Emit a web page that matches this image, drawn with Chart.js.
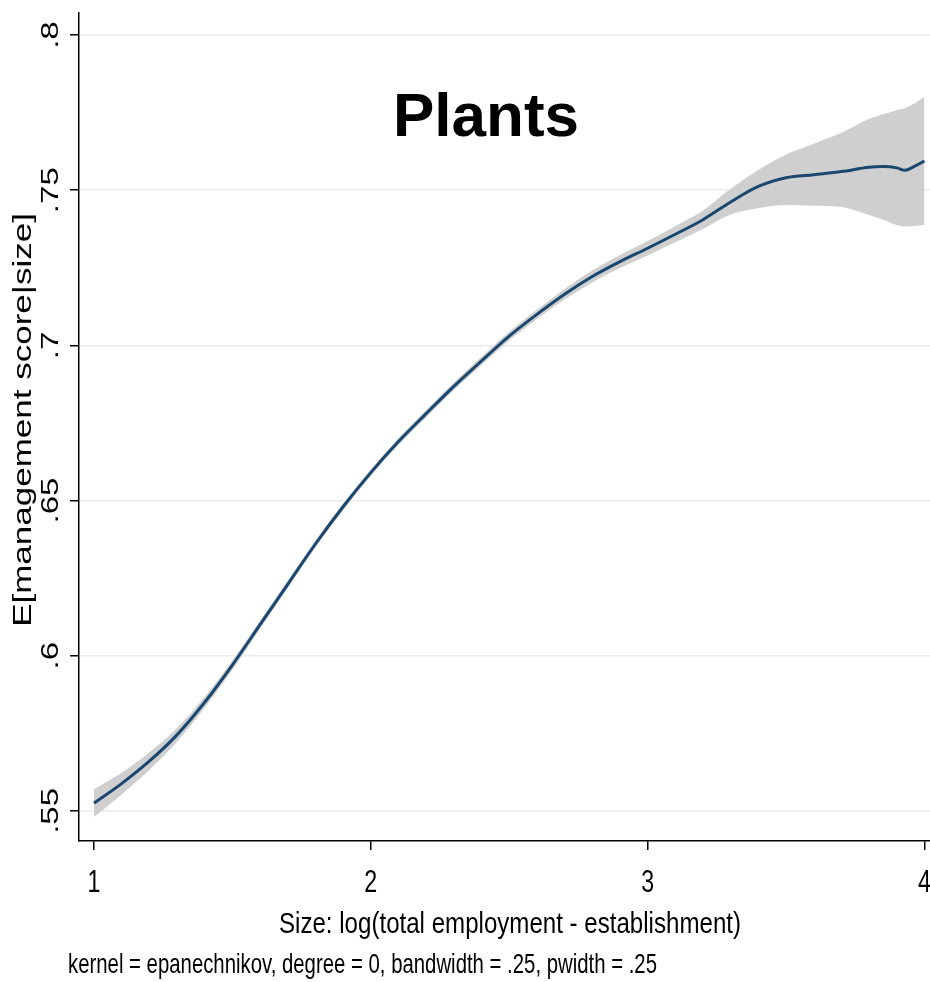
<!DOCTYPE html>
<html>
<head>
<meta charset="utf-8">
<script src="https://cdn.jsdelivr.net/npm/chart.js@4.4.1/dist/chart.umd.min.js"></script>
<style>
  html, body { margin: 0; padding: 0; background: #fff; }
  #wrap { width: 930px; height: 982px; }
</style>
</head>
<body>
<div id="wrap"><canvas id="c" width="930" height="982"></canvas></div>
<script>
// log size (x) and kernel fit with its confidence band
var xs  = [1.0, 1.1, 1.2, 1.3, 1.4, 1.5, 1.6, 1.7, 1.8, 1.9, 2.0, 2.1, 2.2, 2.3, 2.4, 2.5, 2.6, 2.7, 2.8, 2.9, 3.0, 3.1, 3.2, 3.3, 3.4, 3.5, 3.6, 3.7, 3.8, 3.85, 3.9, 3.93, 3.96, 4.0];
var fit = [.5525, .5588, .5660, .5745, .5850, .5970, .6100, .6230, .6360, .6480, .6590, .6690, .6780, .6868, .6950, .7030, .7100, .7165, .7222, .7270, .7313, .7358, .7405, .7462, .7512, .7540, .7550, .7560, .7574, .7576, .7572, .7564, .7575, .7594];
var lo  = [.5480, .5553, .5632, .5723, .5832, .5955, .6087, .6218, .6349, .6469, .6579, .6679, .6768, .6856, .6937, .7016, .7085, .7148, .7203, .7249, .7290, .7332, .7375, .7422, .7442, .7452, .7450, .7446, .7420, .7405, .7388, .7383, .7385, .7388];
var hi  = [.5570, .5623, .5688, .5767, .5868, .5985, .6113, .6242, .6371, .6491, .6601, .6701, .6792, .6880, .6963, .7044, .7115, .7182, .7241, .7291, .7336, .7384, .7435, .7505, .7565, .7615, .7650, .7685, .7730, .7745, .7758, .7765, .7778, .7800];

var xTicks = [1, 2, 3, 4];
var xTickLabels = ['1', '2', '3', '4'];
var yTicks = [.55, .6, .65, .7, .75, .8];
var yTickLabels = ['.55', '.6', '.65', '.7', '.75', '.8'];

var face = "'Liberation Sans', Arial, sans-serif";

function pts(ys) {
  return xs.map(function(x, i) { return { x: x, y: ys[i] }; });
}

// the source picture is squeezed sideways, so text gets a horizontal scale
function squeezed(ctx, txt, x, y, font, sx, turn, align) {
  ctx.save();
  ctx.translate(x, y);
  ctx.scale(sx, 1);
  if (turn) ctx.rotate(-Math.PI / 2);
  ctx.font = font;
  ctx.textAlign = align || 'center';
  ctx.fillText(txt, 0, 0);
  ctx.restore();
}

function fitWidth(ctx, txt, font, w) {
  ctx.save();
  ctx.font = font;
  var m = ctx.measureText(txt).width;
  ctx.restore();
  return w / m;
}

var textPlugin = {
  id: 'texts',
  afterDraw: function(chart) {
    var ctx = chart.ctx, ys = chart.scales.y, xsc = chart.scales.x;
    ctx.save();
    ctx.fillStyle = '#000';

    // y tick labels (turned)
    ctx.textBaseline = 'middle';
    for (var i = 0; i < yTicks.length; i++) {
      squeezed(ctx, yTickLabels[i], 51, ys.getPixelForValue(yTicks[i]), '33px ' + face, 0.75, true);
    }
    // y title
    squeezed(ctx, 'E[management score|size]', 24, 420, '35px ' + face, 0.73, true);

    // x tick labels
    ctx.textBaseline = 'alphabetic';
    for (var j = 0; j < xTicks.length; j++) {
      squeezed(ctx, xTickLabels[j], xsc.getPixelForValue(xTicks[j]), 892, '31px ' + face, 0.75, false);
    }
    // x title
    var tf = '30px ' + face;
    var t = 'Size: log(total employment - establishment)';
    squeezed(ctx, t, 510, 933, tf, fitWidth(ctx, t, tf, 462), false);
    // note
    var nf = '28px ' + face;
    var n = 'kernel = epanechnikov, degree = 0, bandwidth = .25, pwidth = .25';
    squeezed(ctx, n, 68, 973, nf, fitWidth(ctx, n, nf, 589), false, 'left');

    // panel title
    ctx.font = 'bold 62px ' + face;
    ctx.textAlign = 'center';
    ctx.fillText('Plants', 486, 136);
    ctx.restore();
  }
};

var chart = new Chart(document.getElementById('c'), {
  type: 'line',
  data: {
    datasets: [
      { label: 'fit', data: pts(fit), borderColor: '#1a476f', borderWidth: 3, pointRadius: 0, fill: false, cubicInterpolationMode: 'monotone' },
      { label: 'lo', data: pts(lo), borderWidth: 0, borderColor: 'rgba(0,0,0,0)', pointRadius: 0, fill: false, cubicInterpolationMode: 'monotone' },
      { label: 'hi', data: pts(hi), borderWidth: 0, borderColor: 'rgba(0,0,0,0)', pointRadius: 0, fill: '-1', backgroundColor: '#cfcfcf', cubicInterpolationMode: 'monotone' }
    ]
  },
  options: {
    responsive: false,
    animation: false,
    devicePixelRatio: 1,
    layout: { padding: { top: 13, right: 0, left: 0, bottom: 0 } },
    plugins: { legend: { display: false }, tooltip: { enabled: false } },
    scales: {
      x: {
        type: 'linear',
        min: 0.946,
        max: 4.02,
        afterBuildTicks: function(s) { s.ticks = xTicks.map(function(v) { return { value: v }; }); },
        afterFit: function(s) { s.height = 141; },
        grid: { drawOnChartArea: false, color: '#000', tickLength: 9, lineWidth: 1.5 },
        border: { display: true, color: '#000', width: 1.5 },
        ticks: { display: false }
      },
      y: {
        type: 'linear',
        min: 0.5403,
        max: 0.8071,
        afterBuildTicks: function(s) { s.ticks = yTicks.map(function(v) { return { value: v }; }); },
        afterFit: function(s) { s.width = 79; },
        grid: { color: '#ececec', lineWidth: 1.5, tickColor: '#000', tickLength: 9 },
        border: { display: true, color: '#000', width: 1.5 },
        ticks: { display: false }
      }
    }
  },
  plugins: [textPlugin]
});
</script>
</body>
</html>
